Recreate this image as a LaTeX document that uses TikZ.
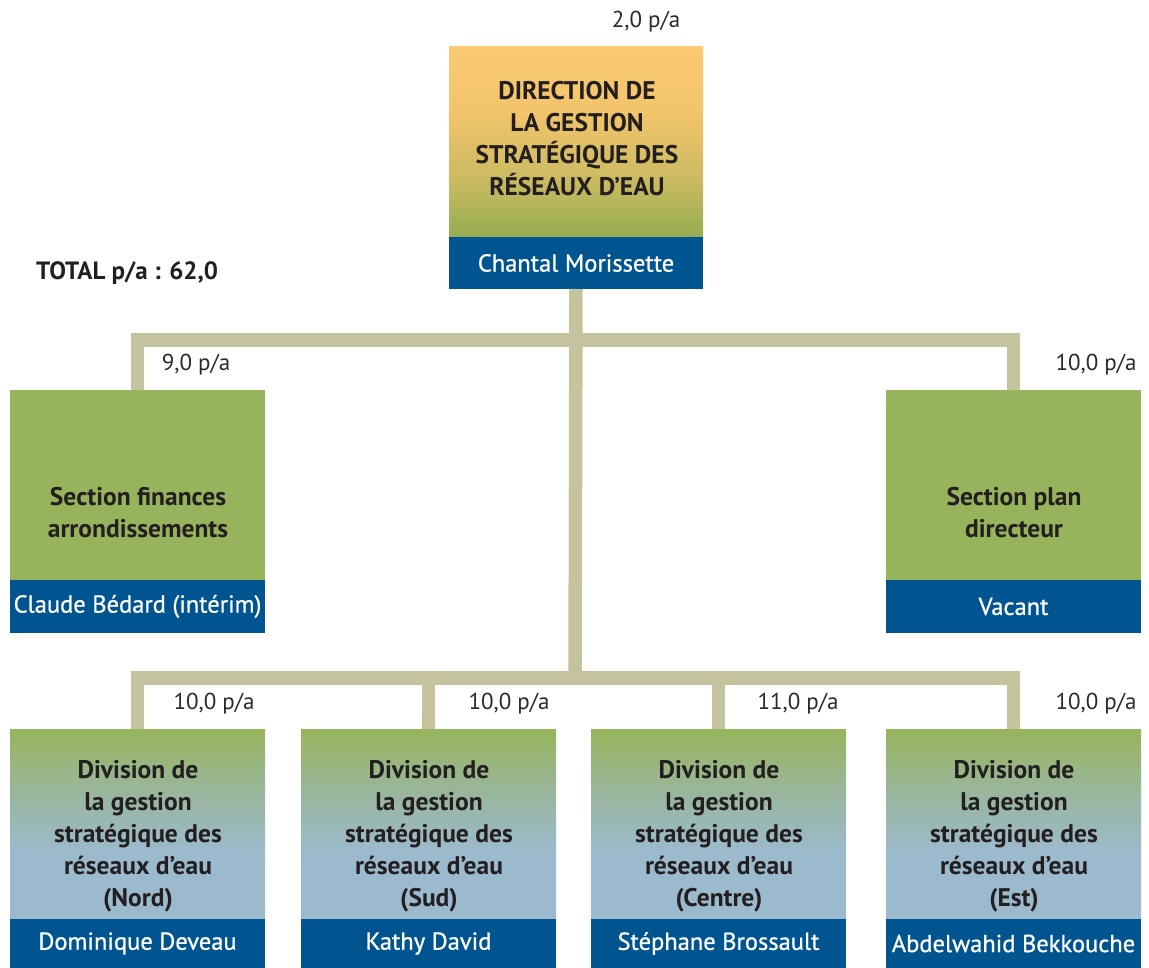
\documentclass[tikz,border=0pt]{standalone}
\usepackage{fontspec}
\setmainfont{PT Sans}
\newfontfamily\namefont{PT Sans}[FakeBold=0.8]
\definecolor{bandblue}{HTML}{00548F}
\definecolor{secgreen}{HTML}{97B35C}
\definecolor{connc}{HTML}{C5C29E}
\definecolor{textdark}{HTML}{231F20}
\definecolor{labelc}{HTML}{2A2A2A}
\definecolor{torange}{HTML}{FBCA72}
\definecolor{torange2}{HTML}{F2C46B}
\definecolor{tolive}{HTML}{CBBA62}
\definecolor{tgreen}{HTML}{94AD50}
\definecolor{dgreen}{HTML}{97B55B}
\definecolor{dmid}{HTML}{99B69E}
\definecolor{dblue}{HTML}{9CBACE}
\pgfdeclareverticalshading{topgrad}{100bp}{color(0bp)=(tgreen); color(25bp)=(tgreen); color(40bp)=(tolive); color(58bp)=(torange2); color(75bp)=(torange); color(100bp)=(torange)}
\pgfdeclareverticalshading{divgrad}{100bp}{color(0bp)=(dblue); color(25bp)=(dblue); color(42bp)=(dblue); color(58bp)=(dmid); color(75bp)=(dgreen); color(100bp)=(dgreen)}
\begin{document}
\begin{tikzpicture}[x=1pt,y=-1pt,
  conn/.style={draw=connc, line width=13.5pt, line join=miter},
  upper/.style={anchor=north west, minimum width=255pt, minimum height=190pt, inner sep=0pt, outer sep=0pt},
  band/.style={anchor=north west, fill=bandblue, minimum width=255pt, inner sep=0pt, outer sep=0pt, text=white, font=\namefont\fontsize{24.5}{28}\selectfont},
  boxtxt/.style={align=center, font=\fontsize{25.5}{32}\selectfont\bfseries, text=textdark, inner sep=0pt},
  pa/.style={font=\fontsize{23}{26}\selectfont, text=labelc, inner sep=0pt},
  ]
\useasboundingbox (0,0) rectangle (1149,968);

\node[upper, minimum width=254pt, shading=topgrad] (dirTop) at (449,47) {};
\node[band, minimum width=254pt, minimum height=52pt] (dirBand) at (449,237) {Chantal Morissette};

\node[upper, fill=secgreen] (sfTop) at (10,390) {};
\node[band, minimum height=53pt] (sfBand) at (10,580) {Claude Bédard (intérim)};
\node[upper, fill=secgreen] (spTop) at (886,390) {};
\node[band, minimum height=53pt] (spBand) at (886,580) {Vacant};

\node[upper, shading=divgrad] (d1Top) at (10,729) {};
\node[band, minimum height=49pt] (d1Band) at (10,919) {Dominique Deveau};
\node[upper, shading=divgrad] (d2Top) at (301,729) {};
\node[band, minimum height=49pt] (d2Band) at (301,919) {Kathy David};
\node[upper, shading=divgrad] (d3Top) at (591,729) {};
\node[band, minimum height=49pt] (d3Band) at (591,919) {Stéphane Brossault};
\node[upper, shading=divgrad] (d4Top) at (886,729) {};
\node[band, minimum height=49pt] (d4Band) at (886,919) {Abdelwahid Bekkouche};

\coordinate (j1) at (575,340);
\coordinate (j2) at (575,678);
\draw[conn] (sfTop.north) |- (j1) -| (spTop.north);
\draw[conn] (dirBand.south) -- (j2);
\draw[conn] (d1Top.north) |- (j2) -| (d4Top.north);
\draw[conn] (d2Top.north) -- (d2Top.north |- j2);
\draw[conn] (d3Top.north) -- (d3Top.north |- j2);

\node[boxtxt] (dirTxt) at (577,139) {DIRECTION DE\\LA GESTION\\STRATÉGIQUE DES\\RÉSEAUX D'EAU};
\node[boxtxt] (sfTxt) at (138,513) {Section finances\\arrondissements};
\node[boxtxt] (spTxt) at (1014,513) {Section plan\\directeur};
\node[boxtxt] (d1Txt) at (138,836) {Division de\\la gestion\\stratégique des\\réseaux d'eau\\(Nord)};
\node[boxtxt] (d2Txt) at (429,836) {Division de\\la gestion\\stratégique des\\réseaux d'eau\\(Sud)};
\node[boxtxt] (d3Txt) at (719,836) {Division de\\la gestion\\stratégique des\\réseaux d'eau\\(Centre)};
\node[boxtxt] (d4Txt) at (1014,836) {Division de\\la gestion\\stratégique des\\réseaux d'eau\\(Est)};

\node[pa] (paDir) at (646,22) {2,0 p/a};
\node[pa] (paSf) at (196,365) {9,0 p/a};
\node[pa] (paSp) at (1096,365) {10,0 p/a};
\node[pa] (paD1) at (214,704) {10,0 p/a};
\node[pa] (paD2) at (509,704) {10,0 p/a};
\node[pa] (paD3) at (798,704) {11,0 p/a};
\node[pa] (paD4) at (1096,704) {10,0 p/a};
\node[pa, font=\fontsize{25}{28}\selectfont\bfseries, text=textdark, anchor=west] (total) at (36,273) {TOTAL p/a : 62,0};
\end{tikzpicture}
\end{document}
